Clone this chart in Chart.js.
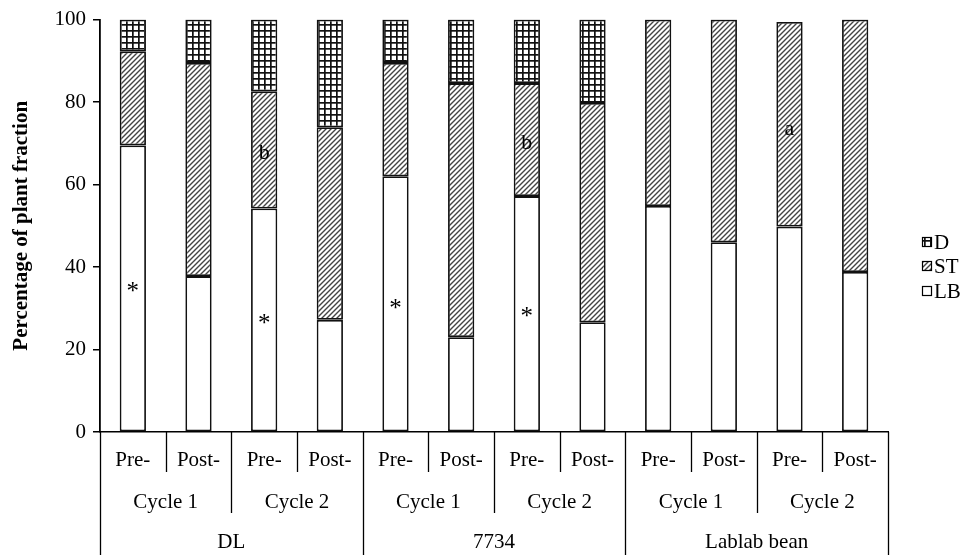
<!DOCTYPE html>
<html>
<head>
<meta charset="utf-8">
<script src="https://cdn.jsdelivr.net/npm/chart.js@4.4.1/dist/chart.umd.min.js"></script>
<style>
  body { margin: 0; background: #fff; }
  #wrap { width: 976px; height: 559px; }
</style>
</head>
<body>
<div id="wrap"><canvas id="barChart"></canvas></div>
<script>
// data
const phases = ['Pre-', 'Post-', 'Pre-', 'Post-', 'Pre-', 'Post-', 'Pre-', 'Post-', 'Pre-', 'Post-', 'Pre-', 'Post-'];
const cycles = ['Cycle 1', 'Cycle 2', 'Cycle 1', 'Cycle 2', 'Cycle 1', 'Cycle 2'];
const genotypes = ['DL', '7734', 'Lablab bean'];
const lb = [69.5, 37.8, 54.2, 27.2, 62, 23, 57.2, 26.6, 54.8, 46, 49.8, 38.8];
const st = [22.8, 51.7, 28.4, 46.7, 27.5, 61.6, 27.4, 53.2, 45.2, 54, 49.6, 61.2];
const d = [7.7, 10.5, 17.4, 26.1, 10.5, 15.4, 15.4, 20.2, 0, 0, 0, 0];
const yTicks = [0, 20, 40, 60, 80, 100];
// significance marks
const markBars = [0, 2, 4, 6, 2, 6, 10];
const markValues = [35.6, 27.9, 31.5, 29.4, 67.5, 70, 73.5];
const markTexts = ['*', '*', '*', '*', 'b', 'b', 'a'];

const FONT = "'Liberation Serif', 'Times New Roman', serif";

function stPattern() {
  const c = document.createElement('canvas');
  c.width = 5; c.height = 5;
  const g = c.getContext('2d');
  g.fillStyle = '#fff';
  g.fillRect(0, 0, 5, 5);
  g.strokeStyle = '#444';
  g.lineWidth = 1.4;
  g.beginPath();
  g.moveTo(0, 5); g.lineTo(5, 0);
  g.moveTo(-1, 1); g.lineTo(1, -1);
  g.moveTo(4, 6); g.lineTo(6, 4);
  g.stroke();
  return g.createPattern(c, 'repeat');
}

function gridPattern() {
  const c = document.createElement('canvas');
  c.width = 6; c.height = 6;
  const g = c.getContext('2d');
  g.fillStyle = '#fff';
  g.fillRect(0, 0, 6, 6);
  g.fillStyle = '#111';
  g.fillRect(0, 0, 6, 1.7);
  g.fillRect(0, 0, 1.7, 6);
  return g.createPattern(c, 'repeat');
}

const stFill = stPattern();
const dFill = gridPattern();

const legendItems = [
  { text: 'D', fill: dFill, y: 242 },
  { text: 'ST', fill: stFill, y: 266 },
  { text: 'LB', fill: '#fff', y: 291 }
];

const extras = {
  id: 'extras',
  afterDraw(chart) {
    const ctx = chart.ctx;
    const xs = chart.scales.x;
    const ys = chart.scales.y;
    const n = phases.length;
    const cw = (xs.right - xs.left) / n;
    const base = ys.bottom;
    const edge = i => xs.left + cw * i;

    ctx.save();
    ctx.strokeStyle = '#000';
    ctx.lineWidth = 1.3;
    ctx.fillStyle = '#000';
    ctx.font = '21px ' + FONT;
    ctx.textAlign = 'center';
    ctx.textBaseline = 'middle';

    // separator lines of the 3-level axis
    for (let i = 0; i <= n; i++) {
      let len;
      if (i % 4 === 0) len = 555;
      else if (i % 2 === 0) len = 513;
      else len = 472;
      ctx.beginPath();
      ctx.moveTo(Math.round(edge(i)) + 0.5, base);
      ctx.lineTo(Math.round(edge(i)) + 0.5, len);
      ctx.stroke();
    }
    phases.forEach((t, i) => ctx.fillText(t, xs.getPixelForValue(i), 460));
    cycles.forEach((t, i) => ctx.fillText(t, edge(i * 2 + 1), 502));
    genotypes.forEach((t, i) => ctx.fillText(t, edge(i * 4 + 2), 542));

    // marks on bars
    markTexts.forEach((t, k) => {
      const x = xs.getPixelForValue(markBars[k]);
      const y = ys.getPixelForValue(markValues[k]);
      ctx.font = (t === '*' ? '25px ' : '22px ') + FONT;
      ctx.fillText(t, x, t === '*' ? y + 7 : y);
    });

    // legend
    ctx.font = '21px ' + FONT;
    ctx.textAlign = 'left';
    legendItems.forEach(it => {
      ctx.fillStyle = it.fill;
      ctx.fillRect(922, it.y - 5, 10, 10);
      ctx.lineWidth = 1.2;
      ctx.strokeRect(922.5, it.y - 4.5, 9, 9);
      ctx.fillStyle = '#000';
      ctx.fillText(it.text, 934, it.y + 1);
    });
    ctx.restore();
  }
};

const barStyle = {
  borderColor: '#111',
  borderWidth: c => (c.raw === 0 ? 0 : 1.8),
  borderSkipped: false,
  barPercentage: 0.4,
  categoryPercentage: 1
};

new Chart(document.getElementById('barChart'), {
  type: 'bar',
  data: {
    labels: phases.map((p, i) => p + ' ' + i),
    datasets: [
      Object.assign({ label: 'LB', data: lb, backgroundColor: '#fff' }, barStyle),
      Object.assign({ label: 'ST', data: st, backgroundColor: stFill }, barStyle),
      Object.assign({ label: 'D', data: d, backgroundColor: dFill }, barStyle)
    ]
  },
  options: {
    responsive: true,
    maintainAspectRatio: false,
    animation: false,
    layout: { padding: { top: 19, right: 88, left: 0, bottom: 0 } },
    plugins: {
      legend: { display: false },
      tooltip: { enabled: false }
    },
    scales: {
      x: {
        stacked: true,
        grid: { display: false },
        border: { color: '#000', width: 1.5 },
        ticks: { display: false },
        afterFit: s => { s.height = 127; }
      },
      y: {
        stacked: true,
        min: 0,
        max: 100,
        afterBuildTicks: s => { s.ticks = yTicks.map(v => ({ value: v })); },
        ticks: { color: '#000', font: { family: FONT, size: 21 }, padding: 7 },
        grid: { drawOnChartArea: false, tickLength: 7, color: '#000', lineWidth: 1.5 },
        border: { color: '#000', width: 1.8 },
        title: {
          display: true,
          text: 'Percentage of plant fraction',
          color: '#000',
          font: { family: FONT, size: 21, weight: 'bold' },
          padding: { top: 9, bottom: 0 }
        },
        afterFit: s => { s.width = 100; }
      }
    }
  },
  plugins: [extras]
});
</script>
</body>
</html>
